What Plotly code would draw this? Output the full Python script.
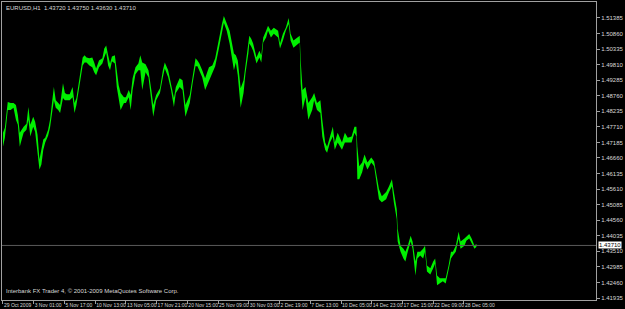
import plotly.graph_objects as go

# ---- data (EURUSD H1) ----
bar_index = [0, 4, 10, 16, 22, 27, 31, 35, 39, 43, 49, 53, 57, 63, 67, 72, 76, 80, 84, 88,
             94, 98, 102, 106, 110, 115, 119, 125, 129, 133, 139, 145, 149, 153, 157, 162, 166, 170, 174, 180,
             186, 190, 194, 200, 207, 211, 215, 219, 223, 227, 233, 237, 241, 245, 252, 256, 262, 266, 270, 276,
             282, 286, 290, 297, 303, 309, 313, 319, 327, 333, 337, 344, 350, 356, 360, 368, 374, 380, 389, 395,
             401, 405, 409, 415, 421, 429, 436, 442, 450, 456, 460, 466, 472, 481, 485, 489, 491, 495, 501, 505,
             511, 513, 517, 521, 528, 534, 538, 542, 548, 552, 558, 564, 573, 577, 583, 589, 595, 599, 605, 614,
             618, 620, 624, 630, 636, 644, 648, 654, 661, 665, 671, 675, 681, 687, 691, 697, 706, 712, 718, 726,
             732, 736, 738, 742, 748, 753, 759, 767, 773, 779, 783, 789, 798, 804, 810, 814, 820, 822, 828, 834,
             838, 843, 849, 853, 859, 863, 869, 875, 879, 883, 890, 896, 900, 904, 910, 916, 922, 928, 933, 937,
             943, 949, 953, 961, 965, 971, 976, 982, 986]

high = [1.4751, 1.4768, 1.4855, 1.4851, 1.4851, 1.4845, 1.4811, 1.4751, 1.4761, 1.4771, 1.4781, 1.4838, 1.4778, 1.4805, 1.4788, 1.4744, 1.4661, 1.4694, 1.4728, 1.4734,
        1.4761, 1.4795, 1.4845, 1.4905, 1.4861, 1.4851, 1.4845, 1.4918, 1.4885, 1.4881, 1.4881, 1.4905, 1.4851, 1.4868, 1.4911, 1.4962, 1.5005, 1.5012, 1.5005, 1.5002,
        1.5005, 1.4988, 1.4968, 1.4995, 1.5002, 1.5035, 1.5045, 1.5012, 1.4985, 1.5008, 1.5012, 1.4962, 1.4911, 1.4885, 1.4871, 1.4871, 1.4895, 1.4878, 1.4935, 1.4972,
        1.4985, 1.5012, 1.4988, 1.4982, 1.4962, 1.4895, 1.4845, 1.4878, 1.4901, 1.4962, 1.4988, 1.4962, 1.4918, 1.4868, 1.4905, 1.4935, 1.4928, 1.4845, 1.4878, 1.4941,
        1.5002, 1.4995, 1.4985, 1.4962, 1.4935, 1.4972, 1.4978, 1.5002, 1.5072, 1.5118, 1.5145, 1.5118, 1.5095, 1.5018, 1.5012, 1.4995, 1.4955, 1.4901, 1.4928, 1.4978,
        1.5052, 1.5078, 1.5068, 1.5052, 1.5005, 1.5028, 1.5012, 1.5072, 1.5095, 1.5112, 1.5095, 1.5105, 1.5095, 1.5052, 1.5085, 1.5105, 1.5138, 1.5085, 1.5062, 1.5072,
        1.5078, 1.4995, 1.4895, 1.4905, 1.4851, 1.4871, 1.4885, 1.4851, 1.4861, 1.4795, 1.4718, 1.4704, 1.4738, 1.4771, 1.4718, 1.4751, 1.4718, 1.4751, 1.4734, 1.4738,
        1.4771, 1.4771, 1.4704, 1.4638, 1.4651, 1.4678, 1.4651, 1.4668, 1.4654, 1.4604, 1.4561, 1.4537, 1.4551, 1.4571, 1.4594, 1.4551, 1.4494, 1.4427, 1.4370, 1.4360,
        1.4350, 1.4370, 1.4404, 1.4384, 1.4317, 1.4350, 1.4350, 1.4360, 1.4370, 1.4303, 1.4294, 1.4317, 1.4327, 1.4270, 1.4260, 1.4260, 1.4260, 1.4303, 1.4350, 1.4350,
        1.4370, 1.4417, 1.4384, 1.4394, 1.4400, 1.4410, 1.4394, 1.4370, 1.4377]

low = [1.4704, 1.4734, 1.4828, 1.4828, 1.4835, 1.4795, 1.4778, 1.4704, 1.4728, 1.4751, 1.4761, 1.4795, 1.4738, 1.4771, 1.4754, 1.4694, 1.4627, 1.4644, 1.4694, 1.4718,
       1.4741, 1.4768, 1.4821, 1.4861, 1.4835, 1.4828, 1.4818, 1.4868, 1.4861, 1.4861, 1.4861, 1.4871, 1.4818, 1.4845, 1.4888, 1.4928, 1.4978, 1.4988, 1.4988, 1.4978,
       1.4972, 1.4955, 1.4945, 1.4972, 1.4985, 1.5005, 1.5022, 1.4978, 1.4962, 1.4992, 1.4985, 1.4905, 1.4861, 1.4828, 1.4851, 1.4851, 1.4871, 1.4828, 1.4895, 1.4948,
       1.4962, 1.4962, 1.4895, 1.4955, 1.4938, 1.4861, 1.4805, 1.4861, 1.4885, 1.4938, 1.4968, 1.4938, 1.4895, 1.4838, 1.4885, 1.4905, 1.4895, 1.4805, 1.4851, 1.4918,
       1.4975, 1.4975, 1.4962, 1.4938, 1.4895, 1.4928, 1.4955, 1.4975, 1.5038, 1.5095, 1.5122, 1.5095, 1.5052, 1.4962, 1.4988, 1.4945, 1.4905, 1.4835, 1.4885, 1.4951,
       1.5018, 1.5052, 1.5042, 1.5028, 1.4985, 1.5005, 1.4988, 1.5055, 1.5072, 1.5095, 1.5072, 1.5085, 1.5072, 1.5035, 1.5062, 1.5095, 1.5118, 1.5062, 1.5038, 1.5052,
       1.5055, 1.4918, 1.4828, 1.4871, 1.4795, 1.4828, 1.4861, 1.4828, 1.4818, 1.4738, 1.4694, 1.4684, 1.4718, 1.4738, 1.4694, 1.4718, 1.4694, 1.4718, 1.4718, 1.4718,
       1.4751, 1.4738, 1.4594, 1.4594, 1.4618, 1.4651, 1.4627, 1.4651, 1.4638, 1.4571, 1.4527, 1.4517, 1.4527, 1.4551, 1.4571, 1.4517, 1.4460, 1.4384, 1.4350, 1.4327,
       1.4317, 1.4350, 1.4384, 1.4360, 1.4270, 1.4327, 1.4337, 1.4327, 1.4350, 1.4283, 1.4273, 1.4294, 1.4310, 1.4237, 1.4245, 1.4250, 1.4243, 1.4283, 1.4327, 1.4337,
       1.4350, 1.4394, 1.4360, 1.4370, 1.4387, 1.4394, 1.4377, 1.4360, 1.4367]

price_ticks = [1.51385, 1.50860, 1.50335, 1.49810, 1.49285, 1.48760, 1.48235, 1.47710, 1.47185,
               1.46660, 1.46135, 1.45610, 1.45085, 1.44560, 1.44035, 1.43510, 1.42985, 1.42460, 1.41935]

time_tick_bars = [0, 64, 128, 192, 256, 320, 384, 448, 512, 576, 640, 704, 768, 832, 896, 960]
time_labels = ["29 Oct 2009", "3 Nov 01:00", "5 Nov 17:00", "10 Nov 13:00", "13 Nov 05:00", "17 Nov 21:00",
               "20 Nov 15:00", "25 Nov 09:00", "30 Nov 03:00", "2 Dec 19:00", "7 Dec 13:00", "10 Dec 05:00",
               "14 Dec 23:00", "17 Dec 15:00", "22 Dec 09:00", "28 Dec 05:00"]

symbol = "EURUSD,H1"
last_ohlc = [1.43720, 1.43750, 1.43630, 1.43710]
last_close = last_ohlc[3]

GREEN = "#00f000"
FG = "#d8d8d8"
FONT = "Liberation Sans"

fig = go.Figure()
fig.add_trace(go.Scatter(x=bar_index, y=low, mode="lines",
                         line=dict(color=GREEN, width=0), hoverinfo="skip", showlegend=False))
fig.add_trace(go.Scatter(x=bar_index, y=high, mode="lines", fill="tonexty", fillcolor=GREEN,
                         line=dict(color=GREEN, width=0), hoverinfo="skip", showlegend=False))

# current price line
fig.add_hline(y=last_close, line=dict(color="#5a5a5a", width=1))

fig.add_annotation(xref="paper", yref="y", x=1, y=last_close, xanchor="left", yanchor="middle",
                   text=f"{last_close:.5f}", showarrow=False, bgcolor="#ffffff",
                   font=dict(family=FONT, size=6, color="#000000"), borderpad=0, xshift=2)

fig.add_annotation(xref="paper", yref="paper", x=0.004, y=0.997, xanchor="left", yanchor="top",
                   text=symbol + "  " + " ".join(f"{v:.5f}" for v in last_ohlc), showarrow=False,
                   font=dict(family=FONT, size=6, color=FG))
fig.add_annotation(xref="paper", yref="paper", x=0.004, y=0.012, xanchor="left", yanchor="bottom",
                   text="Interbank FX Trader 4, © 2001-2009 MetaQuotes Software Corp.", showarrow=False,
                   font=dict(family=FONT, size=6, color=FG))

fig.update_layout(
    width=625, height=309,
    margin=dict(l=1, r=19, t=1, b=9),
    paper_bgcolor="#000000", plot_bgcolor="#000000",
    showlegend=False,
    xaxis=dict(range=[-2, 1235], showgrid=False, zeroline=False,
               tickmode="array", tickvals=time_tick_bars, ticktext=time_labels,
               ticks="outside", ticklen=3, tickcolor="#a0a0a0", tickangle=0,
               ticklabelposition="outside right", ticklabelstandoff=0,
               tickfont=dict(family=FONT, size=5, color=FG),
               showline=True, linecolor="#a0a0a0", linewidth=1, mirror=True),
    yaxis=dict(range=[1.41870, 1.51920], side="right", showgrid=False, zeroline=False,
               tickmode="array", tickvals=price_ticks, ticktext=[f"{v:.5f}" for v in price_ticks],
               ticks="outside", ticklen=3, tickcolor="#a0a0a0",
               tickfont=dict(family=FONT, size=6, color=FG),
               showline=True, linecolor="#a0a0a0", linewidth=1, mirror=True),
)

fig.write_html("out.html")
